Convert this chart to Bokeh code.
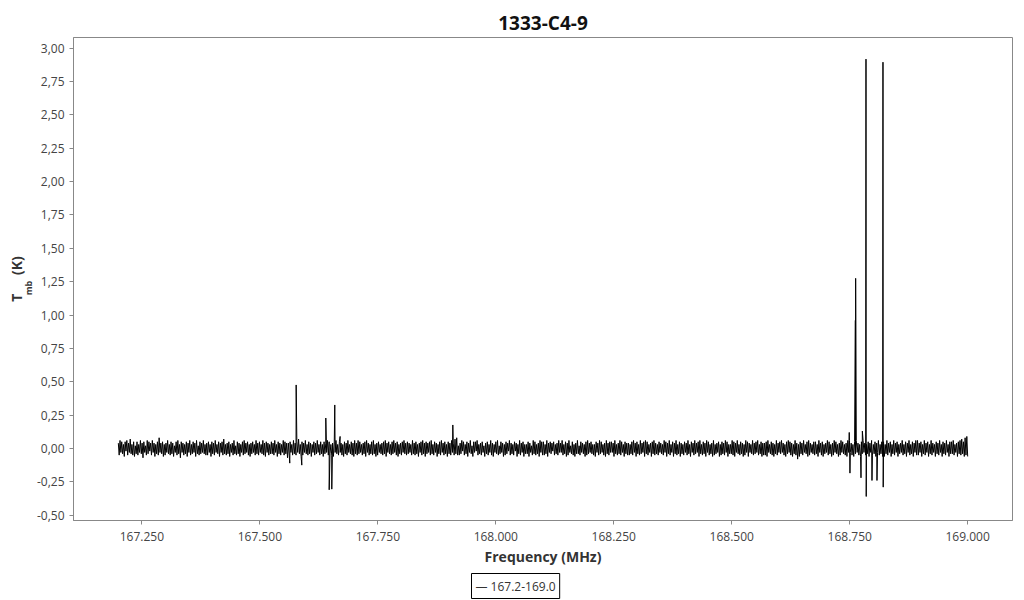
import numpy as np
from bokeh.plotting import figure
from bokeh.models import Range1d, FixedTicker, Title
from bokeh.embed import file_html
from bokeh.resources import INLINE

title_text = "1333-C4-9"
series_name = "167.2-169.0"
freq_start = 167.2
freq_end = 169.0

# baseline noise, in hundredths of a kelvin,
# channels evenly spread from freq_start to freq_end
noise_cK = [
    4,-5,6,-3,5,-4,3,-6,5,-2,6,-5,4,-3,7,-4,3,-5,5,-6,
    2,-4,5,-5,3,-3,6,-4,4,-7,5,-3,2,-5,6,-4,5,-2,4,-5,
    6,-3,4,-6,3,-4,5,-5,8,-3,4,-4,5,-6,3,-5,4,-3,6,-4,
    3,-5,5,-4,4,-6,2,-3,5,-5,6,-4,3,-7,5,-3,4,-5,3,-4,
    5,-6,4,-3,6,-5,3,-4,5,-3,4,-6,6,-4,2,-5,5,-4,4,-3,
    6,-4,3,-5,4,-5,5,-3,3,-6,5,-4,4,-5,6,-3,3,-4,5,-6,
    4,-3,5,-5,7,-4,3,-5,4,-4,5,-6,3,-3,4,-5,6,-4,2,-5,
    5,-4,4,-6,3,-3,5,-5,6,-4,4,-3,5,-5,3,-6,4,-4,5,-3,
    3,-5,6,-4,4,-5,5,-3,3,-4,6,-5,4,-6,5,-3,4,-5,3,-4,
    5,-4,4,-5,6,-3,3,-6,5,-4,4,-5,3,-3,6,-5,5,-4,4,-7,
    4,-5,5,-3,3,-5,6,-4,4,-5,5,-3,7,-4,3,-6,5,-5,4,-3,
    6,-4,3,-5,5,-4,4,-6,3,-3,5,-5,4,-4,6,-3,3,-5,5,-4,
    3,-6,5,-4,4,-3,6,-5,5,-4,3,-5,4,-6,5,-3,6,-4,3,-5,
    5,-3,4,-5,3,-6,5,-4,4,-5,6,-3,3,-4,5,-5,4,-6,6,-4,
    4,-5,6,-4,5,-3,3,-5,4,-4,5,-6,6,-3,4,-5,3,-4,5,-5,
    6,-4,3,-6,4,-5,5,-3,3,-4,4,-5,5,-4,6,-6,4,-3,5,-4,
    3,-5,5,-4,6,-3,4,-5,5,-6,3,-4,4,-5,5,-3,6,-4,4,-5,
    5,-4,4,-3,3,-5,6,-4,4,-5,5,-4,3,-6,4,-3,5,-5,6,-4,
    4,-6,5,-4,4,-3,5,-5,6,-4,3,-5,5,-3,4,-6,3,-4,5,-5,
    6,-3,4,-5,5,-4,3,-6,5,-4,4,-5,6,-3,4,-5,7,-4,8,-5,
    2,-5,4,-4,6,-2,5,-5,3,-4,5,-6,4,-3,6,-4,2,-6,5,-3,
    5,-2,6,-5,3,-4,4,-5,5,-3,2,-6,4,-4,5,-5,3,-3,6,-5,
    4,-6,3,-3,5,-4,6,-5,2,-4,5,-3,4,-6,3,-5,5,-4,4,-2,
    6,-5,4,-4,3,-5,5,-2,4,-6,3,-4,6,-5,4,-3,5,-6,3,-4,
    3,-4,5,-6,4,-3,2,-5,6,-4,5,-5,3,-4,4,-6,6,-3,5,-5,
    5,-5,3,-4,6,-6,4,-3,5,-4,4,-2,5,-5,3,-4,4,-5,6,-3,
    4,-3,6,-5,3,-4,5,-6,4,-5,6,-3,2,-4,5,-5,3,-6,4,-4,
    6,-4,2,-5,5,-3,4,-4,3,-6,5,-5,6,-4,4,-3,5,-4,3,-5,
    3,-6,5,-3,4,-5,6,-4,5,-3,3,-5,4,-6,6,-4,4,-5,5,-3,
    5,-3,4,-6,6,-4,3,-5,4,-4,6,-5,5,-3,3,-6,5,-4,4,-5,
    4,-5,3,-4,5,-5,6,-3,4,-6,5,-4,3,-5,6,-4,4,-3,5,-6,
    6,-4,5,-5,3,-3,4,-6,5,-4,6,-5,4,-4,3,-5,5,-3,4,-4,
    3,-5,6,-3,5,-6,4,-4,6,-5,3,-3,5,-6,4,-4,6,-5,3,-4,
    5,-6,4,-4,3,-5,5,-3,4,-5,6,-4,3,-6,5,-3,4,-5,6,-4,
    4,-3,5,-6,6,-4,3,-5,5,-4,4,-6,6,-3,5,-5,3,-4,4,-6,
    6,-5,3,-4,4,-3,5,-6,3,-5,5,-4,4,-5,6,-3,5,-6,3,-4,
    3,-4,6,-5,5,-6,4,-3,6,-4,3,-5,5,-4,4,-6,3,-5,6,-3,
    5,-6,4,-3,3,-4,6,-5,4,-4,5,-3,6,-5,3,-4,5,-6,4,-5,
    4,-5,5,-6,6,-3,3,-4,5,-5,4,-6,3,-4,6,-5,4,-3,5,-4,
    6,-3,4,-5,3,-6,5,-4,6,-3,5,-5,4,-6,3,-4,6,-5,4,-8,
    3,-6,5,-4,4,-5,6,-3,3,-4,5,-6,6,-5,4,-3,3,-4,5,-5,
    5,-4,3,-6,6,-3,4,-5,5,-6,3,-4,4,-3,6,-5,5,-4,3,-6,
    4,-5,6,-3,5,-4,3,-6,4,-5,6,-3,5,-4,3,-5,4,-6,6,-3,
    6,-3,4,-5,3,-6,5,-4,6,-3,4,-5,3,-6,5,-4,6,-3,4,-5,
    3,-4,5,-6,4,-3,6,-5,3,-4,5,-6,4,-3,6,-5,3,-4,5,-6,
    5,-6,3,-4,6,-5,4,-3,5,-6,3,-4,6,-5,4,-3,5,-6,3,-4,
    4,-3,6,-5,3,-4,5,-6,4,-3,6,-5,3,-4,5,-6,4,-3,6,-5,
    6,-5,4,-3,5,-6,3,-4,6,-5,4,-3,5,-6,3,-4,6,-5,4,-3,
    3,-6,5,-4,4,-5,6,-3,3,-6,5,-4,4,-5,6,-3,3,-6,5,-4,
    5,-4,6,-5,3,-3,4,-6,5,-4,6,-5,7,-4,5,-6,8,-5,9,-6,
]

# emission / absorption lines (MHz, K)
line_freq = [167.5633, 167.5769, 167.5888, 167.6397, 167.6469, 167.6524, 167.6587, 167.6700, 167.9089,
             168.7490, 168.7505, 168.7620, 168.7626, 168.7739, 168.7768, 168.7845, 168.7850,
             168.7972, 168.8078, 168.8205, 168.8210]
line_tmb = [-0.11, 0.476, -0.125, 0.228, -0.31, -0.305, 0.326, 0.09, 0.176,
            0.12, -0.185, 0.96, 1.275, -0.22, 0.13, 2.918, -0.36,
            -0.24, -0.24, 2.895, -0.29]

y_ticks = [-0.5, -0.25, 0.0, 0.25, 0.5, 0.75, 1.0, 1.25, 1.5, 1.75, 2.0, 2.25, 2.5, 2.75, 3.0]
x_ticks = [167.25, 167.5, 167.75, 168.0, 168.25, 168.5, 168.75, 169.0]

chan_freq = np.linspace(freq_start, freq_end, len(noise_cK))
freq = np.concatenate([chan_freq, np.array(line_freq)])
tmb = np.concatenate([np.array(noise_cK) / 100.0, np.array(line_tmb)])
order = np.argsort(freq, kind="stable")
freq = freq[order]
tmb = tmb[order]

FONT = "Open Sans"

p = figure(frame_width=939, frame_height=483,
           x_range=Range1d(167.105, 169.095), y_range=Range1d(-0.54, 3.08),
           output_backend="svg", toolbar_location=None,
           min_border_left=73, min_border_right=10, min_border_top=37, min_border_bottom=78)

p.title.text = title_text
p.title.align = "center"
p.title.vertical_align = "top"
p.title.text_font = FONT
p.title.text_font_size = "19px"
p.title.text_font_style = "bold"
p.title.text_color = "#111111"
p.title.standoff = 0

r = p.line(freq, tmb, line_color="black", line_width=1)

p.xgrid.visible = False
p.ygrid.visible = False
p.outline_line_color = "#888888"
p.outline_line_width = 1
p.background_fill_color = "white"
p.border_fill_color = "white"

for ax in (p.xaxis[0], p.yaxis[0]):
    ax.axis_line_color = "#888888"
    ax.major_tick_line_color = "#888888"
    ax.minor_tick_line_color = None
    ax.major_tick_out = 4
    ax.major_tick_in = 0
    ax.major_label_text_font = FONT
    ax.major_label_text_font_size = "12px"
    ax.major_label_text_color = "#444444"

p.yaxis.ticker = FixedTicker(ticks=y_ticks)
p.yaxis.major_label_overrides = {t: f"{t:.2f}".replace(".", ",") for t in y_ticks}
p.xaxis.ticker = FixedTicker(ticks=x_ticks)
p.xaxis.major_label_overrides = {t: f"{t:.3f}" for t in x_ticks}
p.xaxis.major_label_standoff = 7

p.xaxis.axis_label = "Frequency (MHz)"
p.xaxis.axis_label_text_font = FONT
p.xaxis.axis_label_text_font_size = "14px"
p.xaxis.axis_label_text_font_style = "bold"
p.xaxis.axis_label_text_color = "#333333"
p.xaxis.axis_label_standoff = 3

# y axis label "T_mb (K)": subscript column next to the axis, main text further out
sub = Title(text="mb\u2002\u2002\u2002\u2002", align="center", standoff=-2,
            text_font=FONT, text_font_size="9px", text_font_style="bold", text_color="#333333")
main = Title(text="T\u2002\u2002\u2009\u2009(K)", align="center", standoff=-11,
             text_font=FONT, text_font_size="14px", text_font_style="bold", text_color="#333333")
p.add_layout(sub, "left")
p.add_layout(main, "left")

# series key below the axis: line sample and series name in a black box
key = Title(text="\u2014 " + series_name, align="left", offset=398, standoff=6,
            text_font=FONT, text_font_size="12px", text_font_style="normal", text_color="#333333",
            border_line_color="black", border_line_width=1, padding=4,
            background_fill_color="white")
p.add_layout(key, "below")

open("out.html", "w").write(file_html(p, INLINE))
